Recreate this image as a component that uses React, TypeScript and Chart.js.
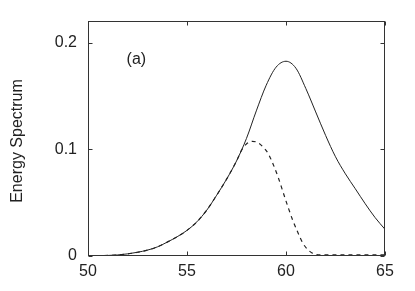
import React, { useEffect, useRef } from "react";
import { Chart, registerables } from "chart.js";

Chart.register(...registerables);

const solidX = [50, 50.5, 51, 51.5, 52, 52.5, 53, 53.5, 54, 54.5, 55, 55.5, 56, 56.5, 57, 57.5, 58, 58.5, 59, 59.5, 60, 60.5, 61, 61.5, 62, 62.5, 63, 63.5, 64, 64.5, 65];
const solidY = [0, 0.0002, 0.0005, 0.001, 0.002, 0.0035, 0.0055, 0.0085, 0.013, 0.018, 0.024, 0.032, 0.043, 0.057, 0.072, 0.089, 0.11, 0.136, 0.16, 0.177, 0.1825, 0.176, 0.157, 0.135, 0.113, 0.093, 0.077, 0.063, 0.049, 0.036, 0.025];

const dashX = [50, 50.5, 51, 51.5, 52, 52.5, 53, 53.5, 54, 54.5, 55, 55.5, 56, 56.5, 57, 57.5, 57.75, 58, 58.3, 58.6, 58.85, 59.1, 59.35, 59.6, 59.85, 60.1, 60.35, 60.6, 60.85, 61.1, 61.4, 61.8, 62.5, 63, 64, 65];
const dashY = [0, 0.0002, 0.0005, 0.001, 0.002, 0.0035, 0.0055, 0.0085, 0.013, 0.018, 0.024, 0.032, 0.043, 0.057, 0.072, 0.089, 0.099, 0.105, 0.1075, 0.106, 0.102, 0.096, 0.086, 0.074, 0.06, 0.046, 0.033, 0.022, 0.012, 0.006, 0.002, 0.001, 0.001, 0.001, 0.001, 0.001];

const xTicks = [50, 55, 60, 65];
const yTicks = [0, 0.1, 0.2];
const yLabels = ["0", "0.1", "0.2"];
const yTitle = "Energy Spectrum";
const panelLabel = "(a)";

const FONT = "'Liberation Sans', Arial, Helvetica, sans-serif";
const INK = "#222";

const framePlugin = {
  id: "frame",
  afterDraw(chart: any) {
    const { ctx, chartArea } = chart;
    const { left, right, top, bottom } = chartArea;
    const xs = chart.scales.x;
    const ys = chart.scales.y;
    const L = Math.round(left) + 0.5;
    const R = Math.round(right) - 0.5;
    const T = Math.round(top) + 0.5;
    const B = Math.round(bottom) - 0.5;
    ctx.save();
    ctx.strokeStyle = "#333";
    ctx.lineWidth = 1;
    ctx.strokeRect(L, T, R - L, B - T);
    const tl = 4;
    ctx.beginPath();
    xTicks.forEach((v) => {
      const px = Math.round(xs.getPixelForValue(v)) + 0.5;
      ctx.moveTo(px, B);
      ctx.lineTo(px, B - tl);
      ctx.moveTo(px, T);
      ctx.lineTo(px, T + tl);
    });
    yTicks.forEach((v) => {
      const py = Math.round(ys.getPixelForValue(v)) + 0.5;
      ctx.moveTo(L, py);
      ctx.lineTo(L + tl, py);
      ctx.moveTo(R, py);
      ctx.lineTo(R - tl, py);
    });
    ctx.stroke();

    ctx.fillStyle = INK;
    ctx.font = `16px ${FONT}`;
    ctx.textAlign = "left";
    ctx.textBaseline = "middle";
    ctx.fillText(panelLabel, xs.getPixelForValue(51.95), ys.getPixelForValue(0.1836));

    ctx.translate(18, 141);
    ctx.rotate(-Math.PI / 2);
    ctx.textAlign = "center";
    ctx.fillText(yTitle, 0, 0);
    ctx.restore();
  },
};

export default function App() {
  const ref = useRef<HTMLCanvasElement>(null);
  useEffect(() => {
    if (!ref.current) return;
    const chart = new Chart(ref.current, {
      type: "line",
      data: {
        datasets: [
          {
            data: solidX.map((x, i) => ({ x, y: solidY[i] })),
            borderColor: INK,
            borderWidth: 1,
            pointRadius: 0,
            cubicInterpolationMode: "monotone",
            fill: false,
          },
          {
            data: dashX.map((x, i) => ({ x, y: dashY[i] })),
            borderColor: INK,
            borderWidth: 1.2,
            borderDash: [4, 4],
            pointRadius: 0,
            cubicInterpolationMode: "monotone",
            fill: false,
          },
        ],
      },
      options: {
        responsive: false,
        animation: false,
        events: [],
        layout: { padding: { top: 20, right: 30, left: 0, bottom: 0 } },
        plugins: { legend: { display: false }, tooltip: { enabled: false } },
        scales: {
          x: {
            type: "linear",
            min: 50,
            max: 65,
            grid: { display: false, drawTicks: false },
            border: { display: false },
            afterBuildTicks: (s: any) => {
              s.ticks = xTicks.map((v) => ({ value: v }));
            },
            afterFit: (s: any) => {
              s.height = 35;
            },
            ticks: {
              padding: 5.5,
              color: INK,
              font: { family: FONT, size: 16 },
              maxRotation: 0,
              autoSkip: false,
              callback: (v: any) => String(v),
            },
          },
          y: {
            type: "linear",
            min: 0,
            max: 0.2206,
            grid: { display: false, drawTicks: false },
            border: { display: false },
            afterBuildTicks: (s: any) => {
              s.ticks = yTicks.map((v) => ({ value: v }));
            },
            afterFit: (s: any) => {
              s.width = 88;
            },
            ticks: {
              padding: 11,
              color: INK,
              font: { family: FONT, size: 16 },
              autoSkip: false,
              callback: (v: any) => {
                const i = yTicks.findIndex((t) => Math.abs(t - v) < 1e-9);
                return i >= 0 ? yLabels[i] : "";
              },
            },
          },
        },
      },
      plugins: [framePlugin],
    });
    return () => chart.destroy();
  }, []);
  return (
    <div style={{ position: "fixed", left: 0, top: 0, width: 415, height: 291, background: "#fff" }}>
      <canvas ref={ref} width={415} height={291} />
    </div>
  );
}
